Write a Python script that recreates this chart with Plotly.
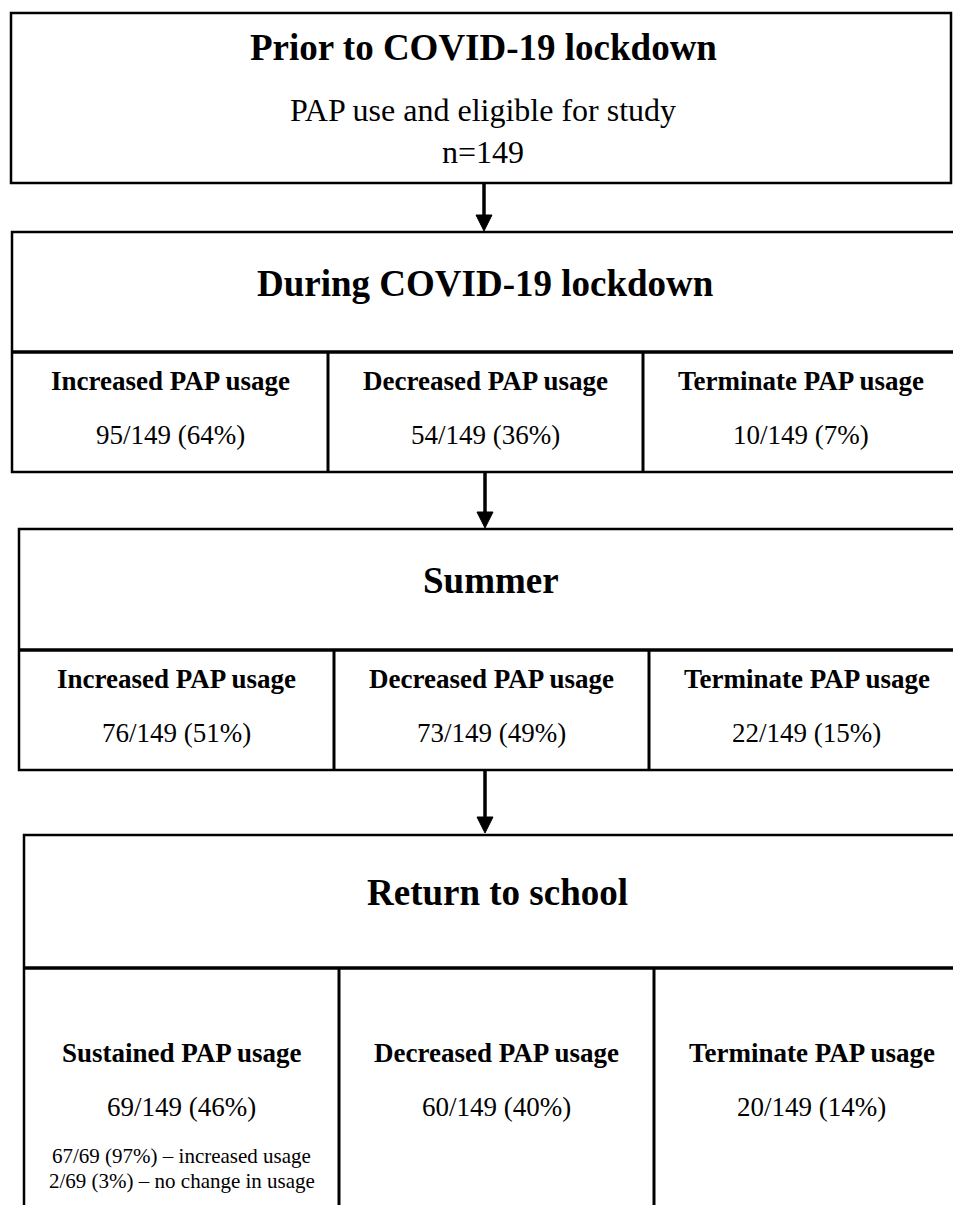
import plotly.graph_objects as go

# ---------------- data ----------------
stages = ["Prior to COVID-19 lockdown", "During COVID-19 lockdown", "Summer", "Return to school"]
prior_subtitle = "PAP use and eligible for study"
n_total = 149

lockdown_categories = ["Increased PAP usage", "Decreased PAP usage", "Terminate PAP usage"]
lockdown_counts = [95, 54, 10]
lockdown_pct = [64, 36, 7]

summer_categories = ["Increased PAP usage", "Decreased PAP usage", "Terminate PAP usage"]
summer_counts = [76, 73, 22]
summer_pct = [51, 49, 15]

school_categories = ["Sustained PAP usage", "Decreased PAP usage", "Terminate PAP usage"]
school_counts = [69, 60, 20]
school_pct = [46, 40, 14]

sustained_labels = ["increased usage", "no change in usage"]
sustained_counts = [67, 2]
sustained_pct = [97, 3]

# ---------------- layout geometry (pixels) ----------------
W, H = 953, 1205
FONT = "Liberation Serif, Times New Roman, serif"

top_box = dict(x0=11, x1=951, y0=13, y1=183)
stage_boxes = [
    dict(x0=12, y0=232, ymid=352, y1=472, cols=[328, 643], tx=485, ty=283),
    dict(x0=19, y0=529, ymid=650, y1=770, cols=[334, 649], tx=491, ty=580),
    dict(x0=24, y0=835, ymid=968, y1=1220, cols=[339, 654], tx=497, ty=892),
]
arrows = [(484, 184, 231), (485, 473, 528), (485, 771, 833)]

shapes = []
annotations = []

def add_text(x, y, text, size, bold=False):
    annotations.append(dict(
        x=x, y=y, xref="x", yref="y", showarrow=False,
        text=f"<b>{text}</b>" if bold else text,
        font=dict(family=FONT, size=size, color="black"),
        xanchor="center", yanchor="middle",
    ))

TITLE_SIZE = 37
HEAD_SIZE = 27
NUM_SIZE = 27
SMALL_SIZE = 21

# top box
shapes.append(dict(type="rect", xref="x", yref="y", **top_box,
                   line=dict(color="black", width=2.5), fillcolor="rgba(0,0,0,0)"))
add_text(483, 47, stages[0], TITLE_SIZE, bold=True)
add_text(483, 110, prior_subtitle, 32)
add_text(483, 152, f"n={n_total}", 32)

stage_rows = [
    (lockdown_categories, lockdown_counts, lockdown_pct),
    (summer_categories, summer_counts, summer_pct),
    (school_categories, school_counts, school_pct),
]
head_off = [29, 29, 85]
num_off = [83, 83, 139]

for i, (box, (cats, cnts, pcts)) in enumerate(zip(stage_boxes, stage_rows)):
    shapes.append(dict(type="rect", xref="x", yref="y", x0=box["x0"], x1=W + 10,
                       y0=box["y0"], y1=box["y1"],
                       line=dict(color="black", width=2.5), fillcolor="rgba(0,0,0,0)"))
    shapes.append(dict(type="line", xref="x", yref="y", x0=box["x0"], x1=W + 10,
                       y0=box["ymid"], y1=box["ymid"], line=dict(color="black", width=3.5)))
    for cx in box["cols"]:
        shapes.append(dict(type="line", xref="x", yref="y", x0=cx, x1=cx,
                           y0=box["ymid"], y1=box["y1"], line=dict(color="black", width=3)))
    edges = [box["x0"]] + box["cols"] + [box["cols"][1] + (box["cols"][1] - box["cols"][0])]
    add_text(box["tx"], box["ty"], stages[i + 1], TITLE_SIZE, bold=True)
    for j in range(3):
        cx = (edges[j] + edges[j + 1]) / 2
        add_text(cx, box["ymid"] + head_off[i], cats[j], HEAD_SIZE, bold=True)
        add_text(cx, box["ymid"] + num_off[i], f"{cnts[j]}/{n_total} ({pcts[j]}%)", NUM_SIZE)
    if i == 2:
        cx = (edges[0] + edges[1]) / 2
        for k in range(2):
            add_text(cx, 1156 + 25 * k,
                     f"{sustained_counts[k]}/{school_counts[0]} ({sustained_pct[k]}%) \u2013 {sustained_labels[k]}",
                     SMALL_SIZE)

for (ax, ya, yb) in arrows:
    shapes.append(dict(type="line", xref="x", yref="y", x0=ax, x1=ax, y0=ya, y1=yb - 15,
                       line=dict(color="black", width=3.5)))
    shapes.append(dict(type="path", xref="x", yref="y",
                       path=f"M {ax-8},{yb-16} L {ax+8},{yb-16} L {ax},{yb} Z",
                       fillcolor="black", line=dict(color="black", width=1)))

fig = go.Figure()
fig.update_layout(
    width=W, height=H,
    margin=dict(l=0, r=0, t=0, b=0),
    paper_bgcolor="white", plot_bgcolor="white",
    xaxis=dict(range=[0, W], visible=False, fixedrange=True),
    yaxis=dict(range=[H, 0], visible=False, fixedrange=True),
    shapes=shapes, annotations=annotations, showlegend=False,
)
fig.write_html("out.html", config={"displayModeBar": False},
               post_script="document.body.style.margin='0';document.body.style.padding='0';")
